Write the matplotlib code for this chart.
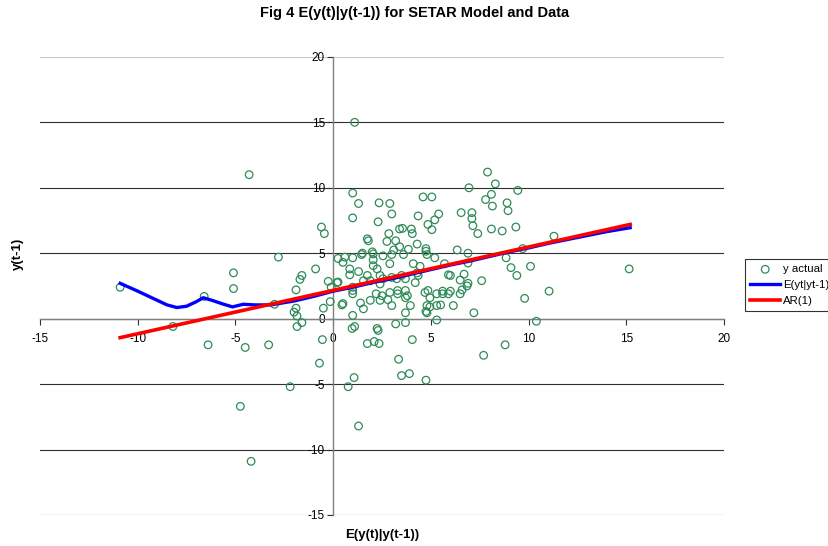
import numpy as np
import matplotlib
matplotlib.use("Agg")
import matplotlib.pyplot as plt

plt.rcParams['font.family'] = ['Liberation Sans', 'DejaVu Sans']
plt.rcParams['axes.unicode_minus'] = False

# observed pairs (y(t-1) on x, y(t) on y)
pts = [
    (-10.9, 2.4), (-8.2, -0.6), (-6.6, 1.7), (-6.4, -2.0), (-5.1, 3.5), (-5.1, 2.3),
    (-4.5, -2.2), (-4.3, 11.0), (-4.75, -6.7), (-4.2, -10.9), (-3.3, -2.0), (-3.0, 1.1),
    (-2.8, 4.7), (-2.2, -5.2), (-1.9, 2.2), (-1.7, 3.0), (-1.6, 3.3), (-0.9, 3.8),
    (-0.6, 7.0), (-0.45, 6.5), (-0.25, 2.85), (-0.1, 2.4), (-0.5, 0.8), (-1.9, 0.8),
    (-2.0, 0.5), (-1.85, 0.2), (-1.85, -0.6), (-1.6, -0.3), (-0.55, -1.6), (-0.15, 1.3),
    (-0.7, -3.4),
    (0.25, 2.8), (0.25, 4.6), (0.77, -5.2), (1.07, -4.5), (1.3, -8.2), (1.1, 15.0),
    (1.0, 9.6), (1.3, 8.8), (1.0, 7.7), (2.35, 8.85), (2.9, 8.8), (3.0, 8.0), (2.3, 7.4),
    (4.6, 9.3), (5.05, 9.3), (4.35, 7.85), (5.4, 8.0), (5.2, 7.55), (4.85, 7.2),
    (5.05, 6.8), (3.4, 6.85), (3.55, 6.9), (4.0, 6.85), (4.05, 6.5), (2.85, 6.5),
    (1.75, 6.1), (1.8, 5.95), (2.75, 5.9), (3.2, 5.95), (3.4, 5.5), (3.1, 5.25),
    (3.85, 5.3), (4.3, 5.7), (4.75, 5.35), (4.75, 5.15), (2.0, 5.1), (1.5, 5.0),
    (6.55, 8.1), (7.1, 8.1), (7.1, 7.65), (7.15, 7.1), (7.4, 6.5), (8.1, 6.85),
    (8.65, 6.7), (9.35, 7.0), (6.95, 10.0), (7.9, 11.2), (8.3, 10.3), (7.8, 9.1),
    (8.1, 9.5), (8.15, 8.6), (8.9, 8.85), (8.95, 8.25), (9.45, 9.8), (6.35, 5.25),
    (6.9, 5.0), (9.7, 5.35), (11.3, 6.3),
    (0.6, 4.7), (1.0, 4.65), (1.45, 4.9), (2.05, 4.95), (2.05, 4.5), (2.55, 4.8),
    (3.0, 4.9), (3.6, 4.9), (4.8, 4.9), (5.2, 4.65), (0.5, 4.3), (0.85, 3.8),
    (1.3, 3.6), (2.05, 4.05), (2.25, 3.8), (2.9, 4.2), (4.1, 4.2), (4.45, 4.0),
    (0.85, 3.35), (1.75, 3.3), (1.9, 2.9), (2.4, 3.3), (2.55, 3.05), (3.0, 3.15),
    (3.25, 3.05), (3.5, 3.3), (3.7, 3.05), (4.3, 3.5), (4.35, 3.3), (4.2, 2.75),
    (0.2, 2.75), (1.0, 2.4), (1.0, 2.15), (1.55, 2.9), (2.4, 2.65), (2.9, 2.0),
    (3.3, 2.15), (3.7, 2.15), (3.8, 1.75), (4.7, 2.0), (4.85, 2.15), (4.95, 1.6),
    (1.9, 1.4), (2.4, 1.4), (2.8, 1.45), (3.0, 1.0), (3.95, 1.0), (4.8, 1.0),
    (0.5, 1.15), (1.4, 1.2), (1.55, 0.75), (3.7, 0.45), (4.8, 0.45), (5.3, -0.1),
    (2.25, -0.75), (3.2, -0.4), (3.7, -0.3), (1.0, 0.25), (0.97, -0.75), (1.1, -0.6),
    (2.3, -0.9), (1.75, -1.9), (2.1, -1.75), (2.35, -1.9), (4.05, -1.6), (3.35, -3.1),
    (3.5, -4.35), (3.9, -4.2), (4.75, -4.7), (7.7, -2.8), (8.8, -2.0), (10.4, -0.2),
    (7.2, 0.45), (6.15, 1.0), (5.5, 1.05), (5.3, 1.0), (4.95, 0.9), (4.75, 0.55),
    (0.45, 1.05), (5.6, 1.9), (5.9, 1.9), (5.3, 1.9), (6.6, 2.2), (6.5, 1.9),
    (6.0, 2.1), (5.6, 2.1), (6.85, 2.5), (6.9, 2.7), (6.5, 2.95), (6.7, 3.4),
    (5.9, 3.35), (6.0, 3.3), (5.7, 4.2), (6.9, 4.25), (7.6, 2.9), (8.85, 4.65),
    (9.1, 3.9), (9.4, 3.3), (10.1, 4.0), (9.8, 1.55), (11.05, 2.1), (15.15, 3.8),
    (2.2, 1.9), (2.5, 1.75), (3.3, 1.9), (3.7, 1.6), (1.0, 1.9),
]
x_act = np.array([p[0] for p in pts])
y_act = np.array([p[1] for p in pts])

# SETAR conditional expectation
setar_x = [-10.9, -10, -9, -8.5, -8.0, -7.5, -7.0, -6.65, -6.2, -5.6, -5.15, -4.6,
           -4.0, -3.2, -2.0, -1.0, 0, 1, 2, 3, 4, 5, 6, 7, 8, 9, 10, 11, 12, 13,
           14, 15.2]
setar_y = [2.7, 2.1, 1.4, 1.05, 0.85, 0.95, 1.3, 1.6, 1.4, 1.1, 0.9, 1.1,
           1.05, 1.05, 1.35, 1.7, 2.1, 2.4, 2.75, 3.05, 3.4, 3.75, 4.1, 4.4, 4.75,
           5.1, 5.4, 5.75, 6.05, 6.35, 6.65, 6.95]

# AR(1) fit line endpoints
ar_x = [-10.9, 15.2]
ar_y = [-1.45, 7.2]

xticks = [-15, -10, -5, 0, 5, 10, 15, 20]
yticks = [-15, -10, -5, 0, 5, 10, 15, 20]

fig = plt.figure(figsize=(8.29, 5.46), dpi=100)
ax = fig.add_axes([0.0483, 0.0568, 0.825, 0.839])

for yv in yticks:
    col = '#c8c8c8' if yv == 20 else '#303030'
    ax.axhline(yv, color=col, lw=0.8, zorder=0)

ax.scatter(x_act, y_act, s=30, facecolors='none', edgecolors='#2e8b57',
           linewidths=0.9, zorder=3, label='y actual')
ax.plot(setar_x, setar_y, color='#0000ff', lw=2.4, zorder=4, label='E(yt|yt-1)')
ax.plot(ar_x, ar_y, color='#ff0000', lw=2.6, zorder=5, label='AR(1)')

ax.set_xlim(-15, 20)
ax.set_ylim(-15, 20)
ax.set_xticks(xticks)
ax.set_yticks(yticks)

ax.spines['left'].set_position(('data', 0))
ax.spines['bottom'].set_position(('data', 0))
ax.spines['right'].set_visible(False)
ax.spines['top'].set_visible(False)
for s in ('left', 'bottom'):
    ax.spines[s].set_color('#808080')
    ax.spines[s].set_linewidth(1.0)
ax.tick_params(axis='both', labelsize=8.5, colors='#000000', length=4,
               width=0.8, direction='out')
ax.tick_params(axis='x', pad=6)
ax.tick_params(axis='y', pad=2)
ax.tick_params(axis='both', color='#303030')

fig.text(0.5, 0.977, 'Fig 4 E(y(t)|y(t-1)) for SETAR Model and Data',
         ha='center', va='center', fontsize=10.5, fontweight='bold')
fig.text(0.461, 0.02, 'E(y(t)|y(t-1))', ha='center', va='center',
         fontsize=9.5, fontweight='bold')
fig.text(0.022, 0.535, 'y(t-1)', ha='center', va='center', rotation=90,
         fontsize=9.5, fontweight='bold')

leg = fig.legend(loc='center', bbox_to_anchor=(0.953, 0.478), fontsize=8.2,
                 frameon=True, fancybox=False, edgecolor='#000000',
                 handlelength=2.6, handletextpad=0.3, borderpad=0.5,
                 labelspacing=0.5, borderaxespad=0)
leg.get_frame().set_linewidth(0.8)

fig.savefig('out.png', dpi=100)
